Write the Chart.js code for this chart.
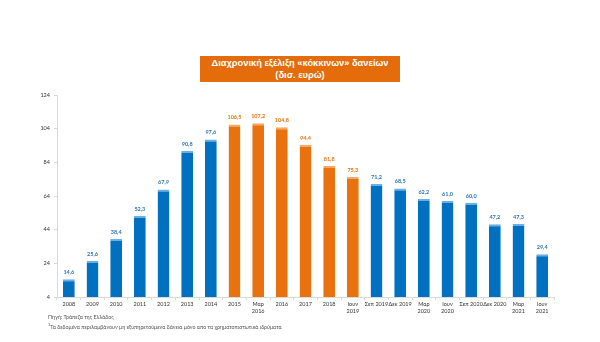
<!DOCTYPE html>
<html>
<head>
<meta charset="utf-8">
<script src="https://cdn.jsdelivr.net/npm/chart.js@4"></script>
<style>
  body { margin: 0; background: #fff; }
  #wrap { position: relative; width: 600px; height: 342px; }
  #title {
    position: absolute; left: 200px; top: 56px; width: 200px; height: 26px;
    background: #E46C0A; color: #fff; font: bold 9.3px "Liberation Sans", Arial, sans-serif;
    text-align: center; line-height: 12px; padding-top: 1px; box-sizing: border-box;
  }
  .note { position: absolute; left: 48px; font: 5.3px Lato, sans-serif; color: #555; }
</style>
</head>
<body>
<div id="wrap">
  <canvas id="npl" width="600" height="342"></canvas>
  <div id="title">Διαχρονική εξέλιξη «κόκκινων» δανείων<br>(δισ. ευρώ)</div>
  <div class="note" style="top:314px">Πηγή: Τράπεζα της Ελλάδος</div>
  <div class="note" style="top:322px"><sup style="font-size:4px">1</sup>Τα δεδομένα περιλαμβάνουν μη εξυπηρετούμενα δάνεια μόνο απο τα χρηματοπιστωτικά ιδρύματα</div>
</div>
<script>
// Periods and stock of non-performing loans (bn euro)
const periods = [
  "2008", "2009", "2010", "2011", "2012", "2013", "2014",
  "2015", ["Μαρ", "2016"], "2016", "2017", "2018", ["Ιουν", "2019"],
  "Σεπ 2019", "Δεκ 2019", ["Μαρ", "2020"], ["Ιουν", "2020"], "Σεπ 2020", "Δεκ 2020", ["Μαρ", "2021"], ["Ιουν", "2021"]
];
const loans = [14.6, 25.6, 38.4, 52.3, 67.9, 90.8, 97.6,
  106.5, 107.2, 104.8, 94.4, 81.8, 75.3,
  71.2, 68.5, 62.2, 61.0, 60.0, 47.2, 47.3, 29.4];
// which periods get the orange highlight
const highlighted = [7, 8, 9, 10, 11, 12];
const yTicks = [4, 24, 44, 64, 84, 104, 124];

const BLUE = "#0070C0", BLUE_TOP = "#6AAEE3";
const ORANGE = "#E8730E", ORANGE_TOP = "#F8A860";

const isHi = i => highlighted.includes(i);

// value labels above each bar
const barLabels = {
  id: "barLabels",
  afterDatasetsDraw(chart) {
    const ctx = chart.ctx;
    const meta = chart.getDatasetMeta(0);
    ctx.save();
    ctx.font = "bold 5.5px Lato, sans-serif";
    ctx.textAlign = "center";
    ctx.textBaseline = "bottom";
    meta.data.forEach((bar, i) => {
      ctx.fillStyle = isHi(i) ? ORANGE : "#2E75B6";
      ctx.fillText(loans[i].toFixed(1).replace(".", ","), bar.x, bar.y - 4);
    });
    ctx.restore();
  }
};

new Chart(document.getElementById("npl"), {
  type: "bar",
  data: {
    labels: periods,
    datasets: [{
      data: loans,
      backgroundColor: loans.map((v, i) => isHi(i) ? ORANGE : BLUE),
      borderColor: loans.map((v, i) => isHi(i) ? ORANGE_TOP : BLUE_TOP),
      borderWidth: { top: 2, left: 0, right: 0, bottom: 0 },
      borderSkipped: false,
      barPercentage: 0.5,
      categoryPercentage: 1
    }]
  },
  options: {
    responsive: false,
    animation: false,
    layout: { padding: { top: 95, right: 46, left: 0, bottom: 0 } },
    plugins: { legend: { display: false }, tooltip: { enabled: false } },
    scales: {
      x: {
        grid: { drawOnChartArea: false, tickLength: 3, color: "#d9d9d9" },
        border: { color: "#d9d9d9" },
        ticks: { color: "#333", font: { family: "Lato", size: 5.5 }, maxRotation: 0, autoSkip: false, padding: 1 },
        afterFit(scale) { scale.height = 45; }
      },
      y: {
        min: 4, max: 124,
        grid: { drawOnChartArea: false, tickLength: 3, color: "#d9d9d9" },
        border: { color: "#d9d9d9" },
        afterBuildTicks(scale) { scale.ticks = yTicks.map(v => ({ value: v })); },
        ticks: { color: "#333", font: { family: "Lato", size: 5.5 }, padding: 4 },
        afterFit(scale) { scale.width = 57; }
      }
    }
  },
  plugins: [barLabels]
});
</script>
</body>
</html>
